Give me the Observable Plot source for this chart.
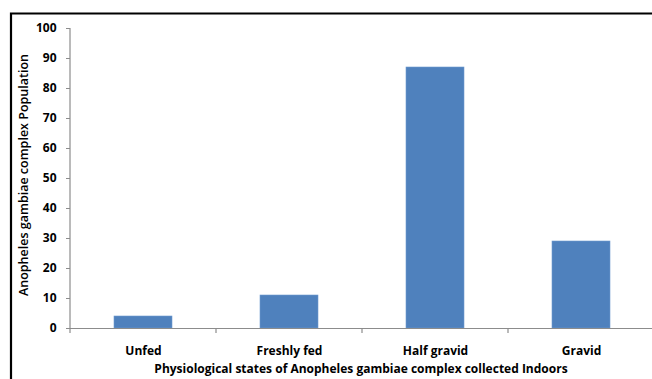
<!DOCTYPE html>
<html>
<head>
<meta charset="utf-8">
<script src="https://cdn.jsdelivr.net/npm/d3@7"></script>
<script src="https://cdn.jsdelivr.net/npm/@observablehq/plot@0.6"></script>
<style>
  html, body { margin: 0; padding: 0; background: #fff; }
  #chart svg { display: block; }
</style>
</head>
<body>
<div id="chart"></div>
<script>
// Physiological states of indoor-collected Anopheles gambiae complex
const states = ["Unfed", "Freshly fed", "Half gravid", "Gravid"];
const counts = [4, 11, 87, 29];
const yTicks = [0, 10, 20, 30, 40, 50, 60, 70, 80, 90, 100];

const xTitle = "Physiological states of Anopheles gambiae complex collected Indoors";
const yTitle = "Anopheles gambiae complex Population";

const data = states.map((s, i) => ({state: s, count: counts[i]}));

const W = 652, H = 379;
const font = "'Open Sans', Lato, sans-serif";
const axisGrey = "#8c8c8c";

const plot = Plot.plot({
  width: W,
  height: H,
  marginLeft: 70,
  marginTop: 28,
  marginBottom: 51,
  marginRight: 0,
  style: {fontFamily: font, fontSize: "12px", fontWeight: "bold", color: "#000", background: "#fff"},
  x: {domain: states, range: [70, 654], paddingInner: 0.6, paddingOuter: 0.3, align: 0.5},
  y: {domain: [0, 100], range: [328, 28]},
  marks: [
    Plot.barY(data, {x: "state", y: "count", fill: "#4f81bd", stroke: "#6f9bd0", strokeWidth: 0.6}),
    Plot.axisY(yTicks, {
      tickSize: 4, tickPadding: 10, stroke: axisGrey, fill: "#000",
      fontSize: 12, label: null
    }),
    Plot.axisX({
      tickSize: 0, tickPadding: 18, fill: "#000", fontSize: 12, label: null
    }),
    Plot.ruleY([0], {stroke: axisGrey, strokeWidth: 1.2})
  ]
});

const svg = d3.select(plot);
const x = plot.scale("x");
const y = plot.scale("y");

// vertical axis line
svg.append("line")
  .attr("x1", 70).attr("x2", 70)
  .attr("y1", y.apply(0)).attr("y2", y.apply(100))
  .attr("stroke", axisGrey).attr("stroke-width", 1.2);

// category boundary ticks below the horizontal axis
const step = x.step;
const bounds = states.map(s => x.apply(s) - (step - x.bandwidth) / 2);
bounds.push(bounds[bounds.length - 1] + step);
svg.append("g").selectAll("line").data(bounds).join("line")
  .attr("x1", d => d).attr("x2", d => d)
  .attr("y1", y.apply(0)).attr("y2", y.apply(0) + 5)
  .attr("stroke", axisGrey).attr("stroke-width", 1.2);

// horizontal axis title
svg.append("text")
  .attr("x", 361).attr("y", 368)
  .attr("text-anchor", "middle")
  .attr("dominant-baseline", "central")
  .attr("font-family", font)
  .attr("font-size", 12)
  .attr("font-weight", "bold")
  .attr("fill", "#000")
  .text(xTitle);

// rotated y-axis title
svg.append("text")
  .attr("transform", `translate(23,175) rotate(-90)`)
  .attr("text-anchor", "middle")
  .attr("dominant-baseline", "central")
  .attr("font-family", font)
  .attr("font-size", 12.5)
  .attr("font-weight", 600)
  .attr("fill", "#000")
  .text(yTitle);

// outer frame (top and left edges)
svg.append("path")
  .attr("d", `M11,${H} L11,13.5 L${W},13.5`)
  .attr("fill", "none").attr("stroke", "#000").attr("stroke-width", 2.2);

document.getElementById("chart").appendChild(plot);
</script>
</body>
</html>
